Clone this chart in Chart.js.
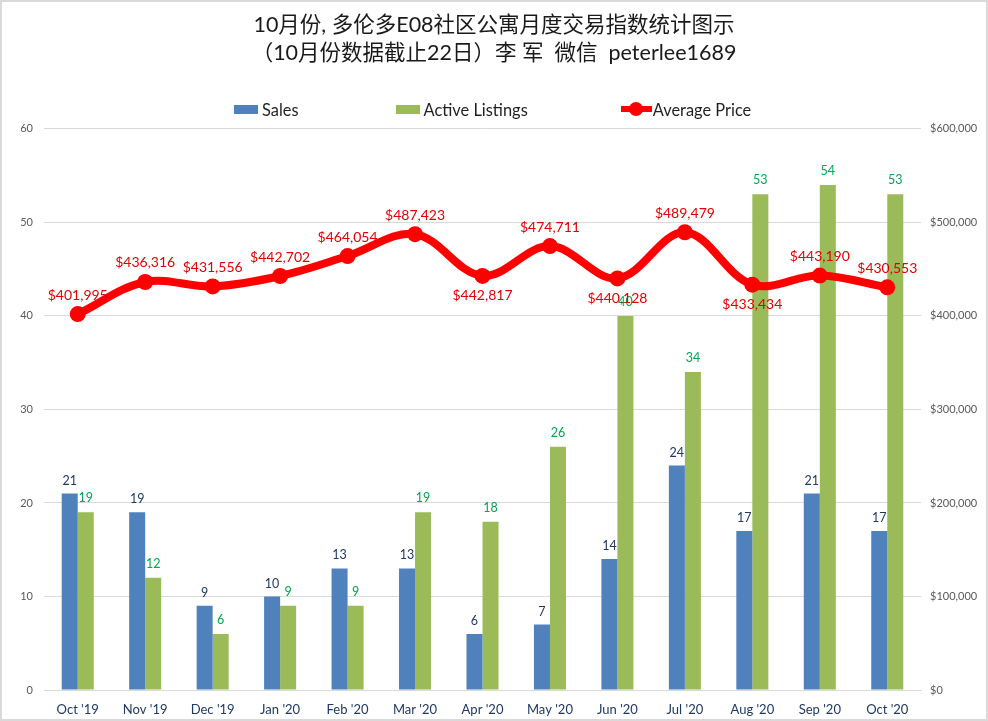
<!DOCTYPE html>
<html>
<head>
<meta charset="utf-8">
<title>E08</title>
<script src="https://cdn.jsdelivr.net/npm/chart.js@4"></script>
<style>
    html, body { margin: 0; padding: 0; background: #fff; }
    #wrap { position: relative; width: 988px; height: 721px; overflow: hidden; }
    #wrap canvas { position: absolute; left: 0; top: 0; }
    #leyenda { position: absolute; left: 234px; top: 99px; height: 20px; display: flex; align-items: center;
        font: 16.4px Lato, "Noto Sans CJK SC", sans-serif; color: #1f1f1f; }
    #leyenda .item { display: flex; align-items: center; }
    #leyenda .caja { width: 24px; height: 9px; margin-right: 4px; }
    #leyenda .linea { position: relative; width: 31px; height: 6px; margin-right: 1px; }
    #leyenda .linea i { position: absolute; left: 8px; top: -4px; width: 14px; height: 14px; border-radius: 50%; }
</style>
</head>
<body>
<div id="wrap">
    <canvas id="grafico" width="988" height="721"></canvas>
    <div id="leyenda"></div>
</div>
<script>
const fuente = 'Lato, "Noto Sans CJK SC", sans-serif';

const titulo = ['10月份, 多伦多E08社区公寓月度交易指数统计图示', '（10月份数据截止22日）李 军  微信  peterlee1689'];
const meses = ["Oct '19", "Nov '19", "Dec '19", "Jan '20", "Feb '20", "Mar '20", "Apr '20", "May '20", "Jun '20", "Jul '20", "Aug '20", "Sep '20", "Oct '20"];
const ventas = [21, 19, 9, 10, 13, 13, 6, 7, 14, 24, 17, 21, 17];
const listados = [19, 12, 6, 9, 9, 19, 18, 26, 40, 34, 53, 54, 53];
const precios = [401995, 436316, 431556, 442702, 464054, 487423, 442817, 474711, 440128, 489479, 433434, 443190, 430553];
const mesesPrecioAbajo = ["Apr '20", "Jun '20", "Aug '20"];

const AZUL = '#4f81bd';
const VERDE = '#9bbb59';
const ROJO = '#ff0000';
const dinero = v => '$' + v.toLocaleString('en-US');

// etiquetas de valor sobre barras y puntos, mas el borde de la imagen
const etiquetas = {
    id: 'etiquetas',
    afterDatasetsDraw(chart) {
        const ctx = chart.ctx;
        ctx.save();
        ctx.textAlign = 'center';
        ctx.textBaseline = 'middle';

        ctx.font = '12.5px ' + fuente;
        ctx.fillStyle = '#1f3864';
        chart.getDatasetMeta(0).data.forEach((bar, i) => ctx.fillText(ventas[i], bar.x, bar.y - 13));
        ctx.fillStyle = '#00a651';
        chart.getDatasetMeta(1).data.forEach((bar, i) => ctx.fillText(listados[i], bar.x, bar.y - 14));

        ctx.font = '14px ' + fuente;
        ctx.fillStyle = '#e00000';
        chart.getDatasetMeta(2).data.forEach((pt, i) => {
            const abajo = mesesPrecioAbajo.includes(meses[i]);
            ctx.fillText(dinero(precios[i]), pt.x, pt.y + (abajo ? 20 : -19));
        });
        ctx.restore();
    },
    afterDraw(chart) {
        const ctx = chart.ctx;
        ctx.save();
        ctx.strokeStyle = '#d9d9d9';
        ctx.lineWidth = 2;
        ctx.strokeRect(1, 1, chart.width - 2, chart.height - 2);
        ctx.restore();
    }
};

const chart = new Chart(document.getElementById('grafico'), {
    type: 'bar',
    plugins: [etiquetas],
    data: {
        labels: meses,
        datasets: [
            { label: 'Sales', data: ventas, backgroundColor: AZUL, yAxisID: 'y', order: 2, categoryPercentage: 0.475, barPercentage: 1 },
            { label: 'Active Listings', data: listados, backgroundColor: VERDE, yAxisID: 'y', order: 2, categoryPercentage: 0.475, barPercentage: 1 },
            {
                type: 'line', label: 'Average Price', data: precios, yAxisID: 'y1', order: 1,
                borderColor: ROJO, backgroundColor: ROJO, borderWidth: 8, tension: 0.36,
                pointRadius: 8, pointBackgroundColor: ROJO, pointBorderColor: ROJO, pointBorderWidth: 0
            }
        ]
    },
    options: {
        responsive: false,
        animation: false,
        layout: { padding: { top: 11, bottom: 0, left: 0, right: 0 } },
        plugins: {
            legend: { display: false },
            tooltip: { enabled: false },
            title: {
                display: true,
                text: titulo,
                color: '#1a1a1a',
                font: { family: fuente, size: 21.5, weight: 'normal', lineHeight: 1.3 },
                padding: { top: 0, bottom: 62 }
            }
        },
        scales: {
            x: {
                offset: true,
                grid: { display: false },
                border: { color: '#d9d9d9' },
                ticks: { color: '#1f3864', font: { family: fuente, size: 13 }, maxRotation: 0, autoSkip: false, padding: 4 },
                afterFit: s => { s.height = 31; }
            },
            y: {
                position: 'left', min: 0, max: 60,
                grid: { color: '#d9d9d9', tickLength: 0 },
                border: { display: false },
                ticks: { stepSize: 10, color: '#595959', font: { family: fuente, size: 11 }, padding: 11 },
                afterFit: s => { s.width = 44; }
            },
            y1: {
                position: 'right', min: 0, max: 600000,
                grid: { display: false, tickLength: 0 },
                border: { display: false },
                ticks: { stepSize: 100000, color: '#595959', font: { family: fuente, size: 11 }, padding: 9, callback: v => dinero(v) },
                afterFit: s => { s.width = 67; }
            }
        }
    }
});

// leyenda en HTML porque el espaciado entre items es mas ancho que el alto de la fila
function generarLeyenda() {
    const caja = document.getElementById('leyenda');
    chart.data.datasets.forEach((d, i) => {
        const item = document.createElement('div');
        item.className = 'item';
        if (i > 0) item.style.marginLeft = (i === 1 ? 97 : 93) + 'px';
        const marca = document.createElement('div');
        if (d.type === 'line') {
            marca.className = 'linea';
            marca.style.background = d.borderColor;
            marca.innerHTML = `<i style="background:${d.borderColor}"></i>`;
        } else {
            marca.className = 'caja';
            marca.style.background = d.backgroundColor;
        }
        const texto = document.createElement('span');
        texto.textContent = d.label;
        item.append(marca, texto);
        caja.appendChild(item);
    });
}

generarLeyenda();
</script>
</body>
</html>
